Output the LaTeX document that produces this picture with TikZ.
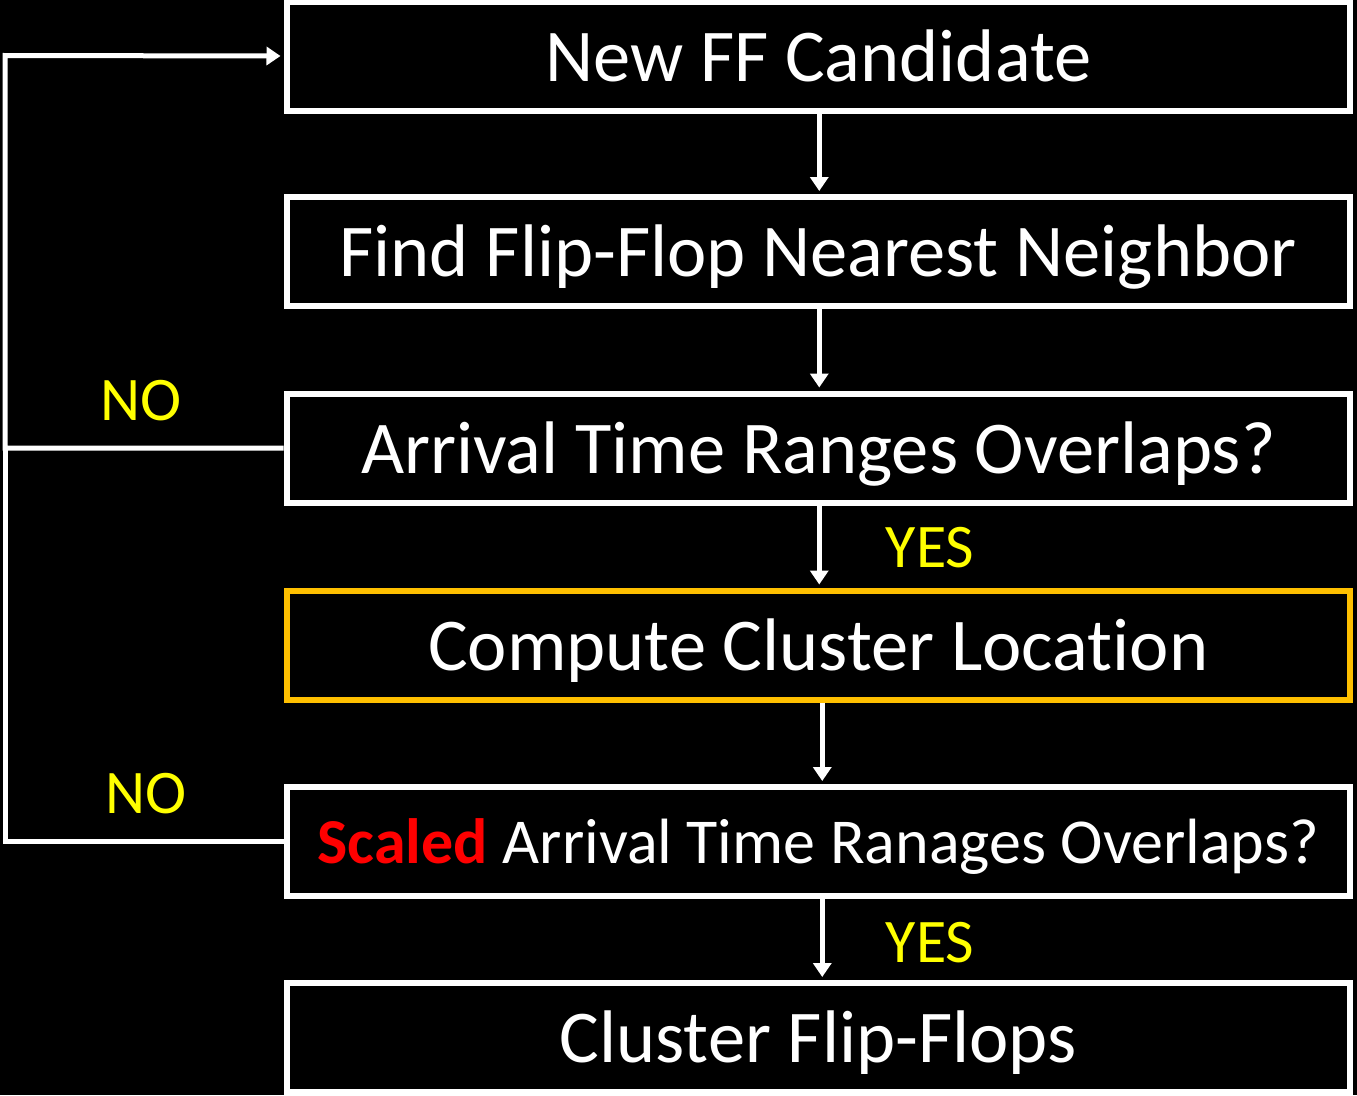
\documentclass[tikz,border=0pt]{standalone}
\usepackage{fontspec}
\setmainfont{Carlito}[Ligatures=NoCommon]
\usetikzlibrary{arrows.meta,calc}
\definecolor{gold}{RGB}{255,192,0}
\definecolor{hlred}{RGB}{255,0,0}
\definecolor{lblyellow}{RGB}{255,255,0}
\tikzset{
  stepbox/.style={draw=white, line width=6pt, minimum width=1063.5pt,
    minimum height=109pt, inner sep=0pt, text=white,
    text height=62pt, text depth=12pt,
    font=\fontsize{74.5}{80}\selectfont},
  tipshape/.tip={Triangle[width=18pt 0 0,length=14pt 0 0]},
  flow/.style={draw=white, line width=5pt, -tipshape, shorten >=3pt},
  plain/.style={draw=white, line width=5pt},
  answer/.style={text=lblyellow, font=\fontsize{62}{70}\selectfont, inner sep=0pt}
}
\begin{document}
\begin{tikzpicture}[x=1pt,y=-1pt]
  \fill[black] (0,0) rectangle (1357,1095);
  \useasboundingbox (0,0) rectangle (1357,1095);

  % process steps
  \node[stepbox] (b1) at (818.25,56)   {New FF Candidate};
  \node[stepbox] (b2) at (818.25,251.5) {Find Flip-Flop Nearest Neighbor};
  \node[stepbox] (b3) at (818.25,448)  {Arrival Time Ranges Overlaps?};
  \node[stepbox, draw=gold] (b4) at (818.25,645) {Compute Cluster Location};
  \node[stepbox, text height=55pt, text depth=12pt,
        font=\fontsize{64}{72}\selectfont] (b5) at (818.25,841.5)
        {\textcolor{hlred}{\textbf{Scaled}} Arrival Time Ranages Overlaps?};
  \node[stepbox] (b6) at (818.25,1037.5) {Cluster Flip-Flops};

  % main flow
  \draw[flow] ([xshift=1pt]b1.south) -- ([xshift=1pt]b2.north);
  \draw[flow] ([xshift=1pt]b2.south) -- ([xshift=1pt]b3.north);
  \draw[flow] ([xshift=1pt]b3.south) -- ([xshift=1pt]b4.north);
  \draw[flow] ([xshift=4pt]b4.south) -- ([xshift=4pt]b5.north);
  \draw[flow] ([xshift=4pt]b5.south) -- ([xshift=4pt]b6.north);

  % feedback loops
  \coordinate (loopA) at (5,448);
  \coordinate (loopB) at (5,841.5);
  \coordinate (loopTop) at (5,55.5);
  \draw[plain, line join=miter] (b5.west) -- (loopB) -- (loopA);
  \draw[flow, line join=miter] (b3.west) -- (loopA) -- (loopTop) -- (b1.west);

  % branch labels
  \node[answer] (no1) at (141,401) {NO};
  \node[answer] (no2) at (146,794) {NO};
  \node[answer] (yes1) at (930,548) {YES};
  \node[answer] (yes2) at (930,943) {YES};
\end{tikzpicture}
\end{document}
